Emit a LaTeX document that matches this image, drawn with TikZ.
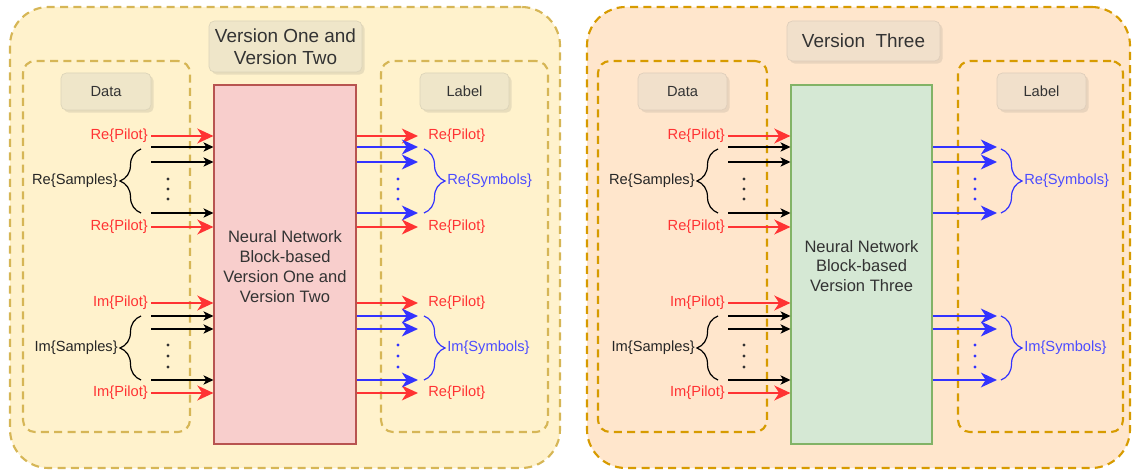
\documentclass[tikz,border=0pt]{standalone}
\usepackage{fontspec}
\setmainfont{Liberation Sans}
\usetikzlibrary{arrows.meta,decorations.pathreplacing,shadows,fit}

\definecolor{ylwfill}{HTML}{FFF2CC}
\definecolor{ylwline}{HTML}{D6B656}
\definecolor{orgfill}{HTML}{FFE6CC}
\definecolor{orgline}{HTML}{D79B00}
\definecolor{tagyl}{HTML}{EFE6C9}
\definecolor{tagor}{HTML}{F1E0CB}
\definecolor{nnred}{HTML}{F8CECC}
\definecolor{nnredline}{HTML}{B85450}
\definecolor{nngreen}{HTML}{D5E8D4}
\definecolor{nngreenline}{HTML}{82B366}
\definecolor{pilotred}{HTML}{FF3333}
\definecolor{symblue}{HTML}{3333FF}
\definecolor{symtext}{HTML}{4C4CFF}
\definecolor{txtgray}{HTML}{333333}

\begin{document}
\begin{tikzpicture}[x=0.75pt,y=-0.75pt,
  outerbox/.style={draw=#1, line width=1.6pt, dash pattern=on 6pt off 4pt,
    rounded corners=29pt, inner sep=0pt},
  innerbox/.style={draw=#1, line width=1.6pt, dash pattern=on 6pt off 4pt,
    rounded corners=9pt, inner sep=0pt},
  tagbox/.style={draw=#1!92!black, fill=#1, rounded corners=4pt, line width=0.5pt,
    drop shadow={shadow xshift=2pt, shadow yshift=-2pt, opacity=0.35, fill=#1!80!black},
    inner sep=0pt},
  tagtext/.style={text=txtgray, align=center, inner sep=0pt},
  nnbox/.style={inner sep=0pt, line width=0.8pt},
  nntext/.style={align=center, text=txtgray, inner sep=0pt,
    font=\fontsize{12.4}{14.8}\selectfont},
  titlefont/.style={font=\fontsize{14.2}{16.5}\selectfont},
  tagfont/.style={font=\fontsize{11}{13}\selectfont},
  lbl/.style={font=\fontsize{11}{13}\selectfont, inner sep=1.5pt},
  inlbl/.style={lbl, text=pilotred, anchor=east, inner xsep=2.25pt},
  outlbl/.style={lbl, text=pilotred, anchor=west, inner xsep=7.5pt},
  redarrow/.style={draw=pilotred, line width=2pt,
    -{Stealth[length=12pt, width=11pt, inset=3.5pt]}},
  bluearrow/.style={draw=symblue, line width=2pt,
    -{Stealth[length=12pt, width=11pt, inset=3.5pt]}},
  blkarrow/.style={draw=black, line width=0.9pt,
    -{Stealth[length=7.5pt, width=7pt, inset=2pt]}},
  bracestyle/.style={decorate, line width=0.9pt,
    decoration={brace, amplitude=15.75pt}},
  dot/.style={circle, fill=#1, inner sep=0pt, minimum size=2.6pt}
]
\useasboundingbox (0,0) rectangle (1132,470);

% ---------------- Version One / Two panel ----------------
\node[outerbox=ylwline, fill=ylwfill, fit={(10,7)(560,468)}] (outerL) {};
\node[innerbox=ylwline, fit={(23,61)(190,432)}] (databoxL) {};
\node[innerbox=ylwline, fit={(381,61)(548,432)}] (labelboxL) {};
\node[tagbox=tagyl, fit={(209,21)(362,72)}] (titleL) {};
\node[tagtext, titlefont] (titleLtext) at (titleL.center) {Version One and\\Version Two};
\node[tagbox=tagyl, fit={(61,73)(151,110)}] (dataL) {};
\node[tagtext, tagfont] (dataLtext) at (dataL.center) {Data};
\node[tagbox=tagyl, fit={(420,73)(509,110)}] (labelL) {};
\node[tagtext, tagfont] (labelLtext) at (labelL.center) {Label};

\node[nnbox, draw=nnredline, fill=nnred, fit={(214,85)(356,444)}] (nnL) {};
\node[nntext] (nnLtext) at ([yshift=-1.5pt]nnL.center)
  {Neural Network\\Block-based\\Version One and\\Version Two};

% inputs, real part
\node[inlbl] (reP1L) at (151,136) {Re\{Pilot\}};
\node[inlbl] (reP2L) at (151,227) {Re\{Pilot\}};
\coordinate (reS1L) at (151,147);
\coordinate (reS2L) at (151,162);
\coordinate (reSnL) at (151,213);
\draw[redarrow] (reP1L.east) -- (nnL.west |- reP1L.east);
\draw[redarrow] (reP2L.east) -- (nnL.west |- reP2L.east);
\foreach \c in {reS1L,reS2L,reSnL} \draw[blkarrow] (\c) -- (nnL.west |- \c);
\foreach \y in {179,189,199} \node[dot=black!80] at (168,\y) {};
\draw[bracestyle] (141,213) -- (141,149);
\node[lbl, anchor=east, text=black!85] (reSampL) at (120,181) {Re\{Samples\}};

% inputs, imaginary part
\node[inlbl] (imP1L) at (151,303) {Im\{Pilot\}};
\node[inlbl] (imP2L) at (151,393) {Im\{Pilot\}};
\coordinate (imS1L) at (151,316);
\coordinate (imS2L) at (151,329);
\coordinate (imSnL) at (151,380);
\draw[redarrow] (imP1L.east) -- (nnL.west |- imP1L.east);
\draw[redarrow] (imP2L.east) -- (nnL.west |- imP2L.east);
\foreach \c in {imS1L,imS2L,imSnL} \draw[blkarrow] (\c) -- (nnL.west |- \c);
\foreach \y in {345,356,367} \node[dot=black!80] at (168,\y) {};
\draw[bracestyle] (141,380) -- (141,316);
\node[lbl, anchor=east, text=black!85] (imSampL) at (120,348) {Im\{Samples\}};

% outputs, real part
\node[outlbl] (oreP1L) at (418,136) {Re\{Pilot\}};
\node[outlbl] (oreP2L) at (418,227) {Re\{Pilot\}};
\coordinate (oreS1L) at (418,147);
\coordinate (oreS2L) at (418,162);
\coordinate (oreSnL) at (418,213);
\draw[redarrow] (nnL.east |- oreP1L.west) -- (oreP1L.west);
\draw[redarrow] (nnL.east |- oreP2L.west) -- (oreP2L.west);
\foreach \c in {oreS1L,oreS2L,oreSnL} \draw[bluearrow] (nnL.east |- \c) -- (\c);
\foreach \y in {179,189,199} \node[dot=symblue, minimum size=2.3pt] at (398,\y) {};
\draw[bracestyle, draw=symblue] (424,149) -- (424,213);
\node[lbl, anchor=west, text=symtext] (reSymL) at (445,181) {Re\{Symbols\}};

% outputs, imaginary part
\node[outlbl] (oimP1L) at (418,303) {Re\{Pilot\}};
\node[outlbl] (oimP2L) at (418,393) {Re\{Pilot\}};
\coordinate (oimS1L) at (418,316);
\coordinate (oimS2L) at (418,329);
\coordinate (oimSnL) at (418,380);
\draw[redarrow] (nnL.east |- oimP1L.west) -- (oimP1L.west);
\draw[redarrow] (nnL.east |- oimP2L.west) -- (oimP2L.west);
\foreach \c in {oimS1L,oimS2L,oimSnL} \draw[bluearrow] (nnL.east |- \c) -- (\c);
\foreach \y in {345,356,367} \node[dot=symblue, minimum size=2.3pt] at (398,\y) {};
\draw[bracestyle, draw=symblue] (424,316) -- (424,380);
\node[lbl, anchor=west, text=symtext] (imSymL) at (445,348) {Im\{Symbols\}};

% ---------------- Version Three panel ----------------
\node[outerbox=orgline, fill=orgfill, fit={(587,7)(1130,468)}] (outerR) {};
\node[innerbox=orgline, fit={(598,61)(767,432)}] (databoxR) {};
\node[innerbox=orgline, fit={(958,61)(1123,432)}] (labelboxR) {};
\node[tagbox=tagor, fit={(787,21)(940,61)}] (titleR) {};
\node[tagtext, titlefont] (titleRtext) at (titleR.center) {Version\ \ Three};
\node[tagbox=tagor, fit={(638,73)(727,110)}] (dataR) {};
\node[tagtext, tagfont] (dataRtext) at (dataR.center) {Data};
\node[tagbox=tagor, fit={(997,73)(1086,110)}] (labelR) {};
\node[tagtext, tagfont] (labelRtext) at (labelR.center) {Label};

\node[nnbox, draw=nngreenline, fill=nngreen, fit={(791,85)(932,444)}] (nnR) {};
\node[nntext] (nnRtext) at ([yshift=-1pt]nnR.center)
  {Neural Network\\Block-based\\Version Three};

% inputs, real part
\node[inlbl] (reP1R) at (728,136) {Re\{Pilot\}};
\node[inlbl] (reP2R) at (728,227) {Re\{Pilot\}};
\coordinate (reS1R) at (728,147);
\coordinate (reS2R) at (728,162);
\coordinate (reSnR) at (728,213);
\draw[redarrow] (reP1R.east) -- (nnR.west |- reP1R.east);
\draw[redarrow] (reP2R.east) -- (nnR.west |- reP2R.east);
\foreach \c in {reS1R,reS2R,reSnR} \draw[blkarrow] (\c) -- (nnR.west |- \c);
\foreach \y in {179,189,199} \node[dot=black!80] at (744,\y) {};
\draw[bracestyle] (718,213) -- (718,149);
\node[lbl, anchor=east, text=black!85] (reSampR) at (697,181) {Re\{Samples\}};

% inputs, imaginary part
\node[inlbl] (imP1R) at (728,303) {Im\{Pilot\}};
\node[inlbl] (imP2R) at (728,393) {Im\{Pilot\}};
\coordinate (imS1R) at (728,316);
\coordinate (imS2R) at (728,329);
\coordinate (imSnR) at (728,380);
\draw[redarrow] (imP1R.east) -- (nnR.west |- imP1R.east);
\draw[redarrow] (imP2R.east) -- (nnR.west |- imP2R.east);
\foreach \c in {imS1R,imS2R,imSnR} \draw[blkarrow] (\c) -- (nnR.west |- \c);
\foreach \y in {345,356,367} \node[dot=black!80] at (744,\y) {};
\draw[bracestyle] (718,380) -- (718,316);
\node[lbl, anchor=east, text=black!85] (imSampR) at (697,348) {Im\{Samples\}};

% outputs
\coordinate (oreS1R) at (997,147);
\coordinate (oreS2R) at (997,162);
\coordinate (oreSnR) at (997,213);
\foreach \c in {oreS1R,oreS2R,oreSnR} \draw[bluearrow] (nnR.east |- \c) -- (\c);
\foreach \y in {179,189,199} \node[dot=symblue, minimum size=2.3pt] at (975,\y) {};
\draw[bracestyle, draw=symblue] (1001,149) -- (1001,213);
\node[lbl, anchor=west, text=symtext] (reSymR) at (1022,181) {Re\{Symbols\}};

\coordinate (oimS1R) at (997,316);
\coordinate (oimS2R) at (997,329);
\coordinate (oimSnR) at (997,380);
\foreach \c in {oimS1R,oimS2R,oimSnR} \draw[bluearrow] (nnR.east |- \c) -- (\c);
\foreach \y in {345,356,367} \node[dot=symblue, minimum size=2.3pt] at (975,\y) {};
\draw[bracestyle, draw=symblue] (1001,316) -- (1001,380);
\node[lbl, anchor=west, text=symtext] (imSymR) at (1022,348) {Im\{Symbols\}};
\end{tikzpicture}
\end{document}
